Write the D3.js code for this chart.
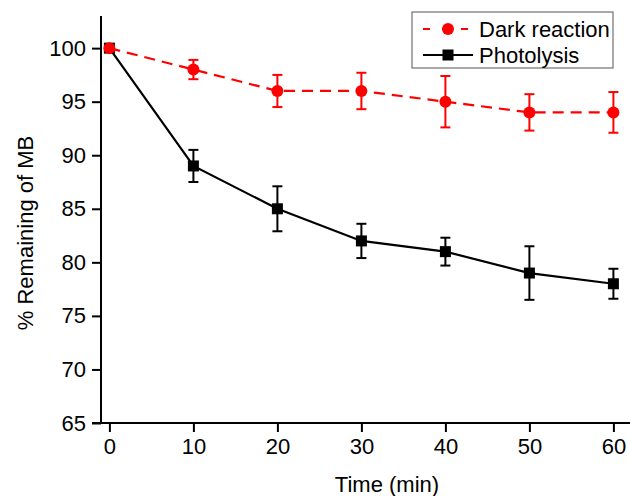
<!DOCTYPE html>
<html>
<head>
<meta charset="utf-8">
<script src="https://cdn.jsdelivr.net/npm/d3@7"></script>
<style>
  body { margin: 0; background: #fff; }
  text { font-family: "Liberation Sans", Arial, sans-serif; }
</style>
</head>
<body>
<div id="chart"></div>
<script>
// data
var times = [0, 10, 20, 30, 40, 50, 60];
var darkValues = [100, 98, 96, 96, 95, 94, 94];
var darkErrors = [0, 0.9, 1.5, 1.7, 2.4, 1.7, 1.9];
var photoValues = [100, 89, 85, 82, 81, 79, 78];
var photoErrors = [0, 1.5, 2.1, 1.6, 1.3, 2.5, 1.4];
var xTicks = [0, 10, 20, 30, 40, 50, 60];
var yTicks = [65, 70, 75, 80, 85, 90, 95, 100];

var width = 630, height = 496;
var fs = "22px";

var svg = d3.select("#chart")
    .append("svg")
    .attr("width", width)
    .attr("height", height);

// plot box (x axis runs off the right edge as in the original)
var x = d3.scaleLinear().domain([-1, 63]).range([101, 101 + 64 * 8.4]);
var y = d3.scaleLinear().domain([65, 103]).range([423, 16]);

// X axis
var xAxis = svg.append("g").attr("transform", "translate(0,423)");
xAxis.call(d3.axisBottom(x).tickValues(d3.range(5, 65, 10)).tickSize(6).tickFormat(""));
xAxis.call(d3.axisBottom(x).tickValues(xTicks).tickSize(9).tickPadding(6));
xAxis.selectAll("path.domain").remove();
xAxis.append("line")
    .attr("x1", x(-1) - 9).attr("x2", width + 10)
    .attr("stroke", "#000").attr("stroke-width", 2);

// Y axis
var yAxis = svg.append("g").attr("transform", "translate(101,0)");
yAxis.call(d3.axisLeft(y).tickValues(d3.range(67.5, 103, 5)).tickSize(5).tickFormat(""));
yAxis.call(d3.axisLeft(y).tickValues(yTicks).tickSize(9).tickPadding(6));
yAxis.selectAll("path.domain").remove();
yAxis.append("line")
    .attr("y1", y(103)).attr("y2", y(65))
    .attr("stroke", "#000").attr("stroke-width", 2);

svg.selectAll(".tick line").attr("stroke", "#000").attr("stroke-width", 2);
svg.selectAll(".tick text")
    .attr("fill", "#000")
    .style("font-size", fs)
    .style("font-family", "'Liberation Sans', Arial, sans-serif");

// axis titles
svg.append("text")
    .attr("x", 387).attr("y", 492)
    .attr("text-anchor", "middle")
    .style("font-size", fs)
    .text("Time (min)");

svg.append("text")
    .attr("transform", "translate(33,233) rotate(-90)")
    .attr("text-anchor", "middle")
    .style("font-size", fs)
    .text("% Remaining of MB");

function drawSeries(values, errors, color, dashed, marker) {
    var pts = times.map(function (t, i) { return {t: t, v: values[i], e: errors[i]}; });
    var g = svg.append("g");

    g.append("path")
        .datum(pts)
        .attr("fill", "none")
        .attr("stroke", color)
        .attr("stroke-width", 2.2)
        .attr("stroke-dasharray", dashed ? "11,7" : null)
        .attr("d", d3.line().x(function (d) { return x(d.t); }).y(function (d) { return y(d.v); }));

    var eb = g.selectAll(".eb")
        .data(pts.filter(function (d) { return d.e > 0; }))
        .enter().append("g")
        .attr("stroke", color).attr("stroke-width", 2);
    eb.append("line")
        .attr("x1", function (d) { return x(d.t); }).attr("x2", function (d) { return x(d.t); })
        .attr("y1", function (d) { return y(d.v - d.e); }).attr("y2", function (d) { return y(d.v + d.e); });
    eb.append("line")
        .attr("x1", function (d) { return x(d.t) - 5; }).attr("x2", function (d) { return x(d.t) + 5; })
        .attr("y1", function (d) { return y(d.v + d.e); }).attr("y2", function (d) { return y(d.v + d.e); });
    eb.append("line")
        .attr("x1", function (d) { return x(d.t) - 5; }).attr("x2", function (d) { return x(d.t) + 5; })
        .attr("y1", function (d) { return y(d.v - d.e); }).attr("y2", function (d) { return y(d.v - d.e); });

    if (marker === "circle") {
        g.selectAll(".pt").data(pts).enter().append("circle")
            .attr("cx", function (d) { return x(d.t); })
            .attr("cy", function (d) { return y(d.v); })
            .attr("r", 6)
            .attr("fill", color);
    } else {
        g.selectAll(".pt").data(pts).enter().append("rect")
            .attr("x", function (d) { return x(d.t) - 5.5; })
            .attr("y", function (d) { return y(d.v) - 5.5; })
            .attr("width", 11).attr("height", 11)
            .attr("fill", color);
    }
}

drawSeries(photoValues, photoErrors, "#000", false, "square");
drawSeries(darkValues, darkErrors, "#ff0000", true, "circle");

// legend
var legend = svg.append("g");
legend.append("rect")
    .attr("x", 412).attr("y", 12).attr("width", 201).attr("height", 56)
    .attr("fill", "#fff").attr("stroke", "#555").attr("stroke-width", 1);

legend.append("line")
    .attr("x1", 423).attr("x2", 473).attr("y1", 29).attr("y2", 29)
    .attr("stroke", "#ff0000").attr("stroke-width", 2.2).attr("stroke-dasharray", "7,12");
legend.append("circle").attr("cx", 448).attr("cy", 29).attr("r", 6).attr("fill", "#ff0000");
legend.append("text").attr("x", 479).attr("y", 37).style("font-size", fs).text("Dark reaction");

legend.append("line")
    .attr("x1", 423).attr("x2", 473).attr("y1", 55).attr("y2", 55)
    .attr("stroke", "#000").attr("stroke-width", 2.2);
legend.append("rect").attr("x", 442.5).attr("y", 49.5).attr("width", 11).attr("height", 11).attr("fill", "#000");
legend.append("text").attr("x", 479).attr("y", 63).style("font-size", fs).text("Photolysis");
</script>
</body>
</html>
